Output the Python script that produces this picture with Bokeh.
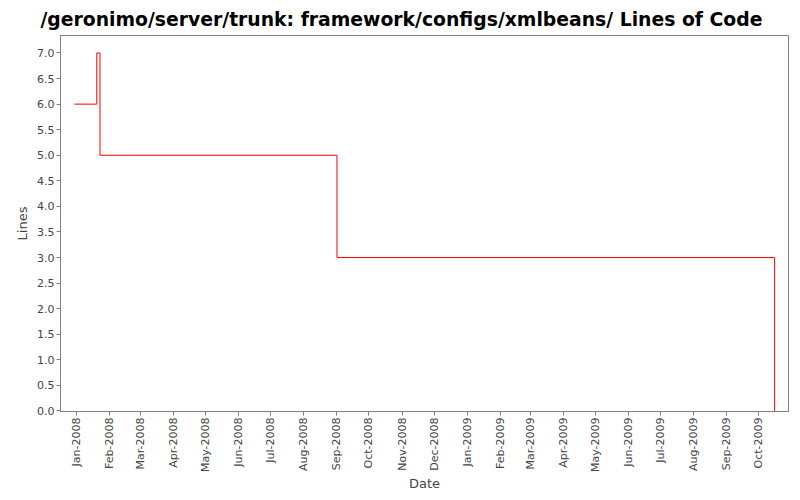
import math
from datetime import datetime
from bokeh.plotting import figure
from bokeh.models import (Range1d, MonthsTicker, DatetimeTickFormatter, SingleIntervalTicker,
                          NumeralTickFormatter, LinearAxis, FixedTicker)
from bokeh.embed import file_html
from bokeh.resources import INLINE

# ---- data ----
dates = ["2007-12-30", "2008-01-20", "2008-01-23", "2008-09-01", "2009-10-16"]
lines = [6, 7, 5, 3, 0]
x_start_date = "2007-12-17"
x_end_date = "2009-10-29"
y_start, y_end = -0.01, 7.342

def dt(s):
    return datetime.strptime(s, "%Y-%m-%d")

xs = [dt(d) for d in dates]

GRAY = "#808080"
TXT = "#444444"

p = figure(width=800, height=500, output_backend="svg", toolbar_location=None,
           x_axis_type="datetime",
           x_range=Range1d(dt(x_start_date), dt(x_end_date)),
           y_range=Range1d(y_start, y_end),
           title="/geronimo/server/trunk: framework/configs/xmlbeans/ Lines of Code",
           min_border_left=60, min_border_right=12, min_border_top=35, min_border_bottom=89)

p.title.text_font = "DejaVu Sans"
p.title.text_font_size = "18.8px"
p.title.text_font_style = "bold"
p.title.text_color = "#000000"
p.title.align = "left"
p.title.offset = -20
p.title.standoff = 12

p.xgrid.visible = False
p.ygrid.visible = False
p.outline_line_color = GRAY
p.background_fill_color = "white"
p.border_fill_color = "white"

p.step(xs, lines, mode="after", line_color="#ff0000", line_width=1)

# spacer axes that push the real axis lines a few pixels away from the plot border
def spacer(out):
    a = LinearAxis(ticker=FixedTicker(ticks=[]), axis_line_color=None,
                   major_tick_out=out, major_tick_in=0, major_label_standoff=0,
                   minor_tick_out=0, minor_tick_in=0,
                   major_label_text_font_size="0px")
    return a

p.left = [spacer(3)] + list(p.left)
p.below = [spacer(4)] + list(p.below)

xa = p.xaxis[-1]
xa.ticker = MonthsTicker(months=list(range(1, 13)))
xa.formatter = DatetimeTickFormatter(months="%b-%Y", days="%b-%Y", years="%b-%Y")
xa.major_label_orientation = math.pi / 2
xa.axis_label = "Date"

ya = p.yaxis[-1]
ya.ticker = SingleIntervalTicker(interval=0.5)
ya.formatter = NumeralTickFormatter(format="0.0")
ya.axis_label = "Lines"

for ax in (xa, ya):
    ax.axis_line_color = GRAY
    ax.major_tick_line_color = GRAY
    ax.major_tick_out = 4
    ax.major_tick_in = 0
    ax.minor_tick_line_color = None
    ax.major_label_text_font = "DejaVu Sans"
    ax.major_label_text_font_size = "11px"
    ax.major_label_text_color = TXT
    ax.major_label_standoff = 2
    ax.axis_label_text_font = "DejaVu Sans"
    ax.axis_label_text_font_size = "13px"
    ax.axis_label_text_font_style = "normal"
    ax.axis_label_text_color = TXT
xa.axis_label_standoff = 1
ya.axis_label_standoff = 4

open("out.html", "w").write(file_html(p, INLINE))
